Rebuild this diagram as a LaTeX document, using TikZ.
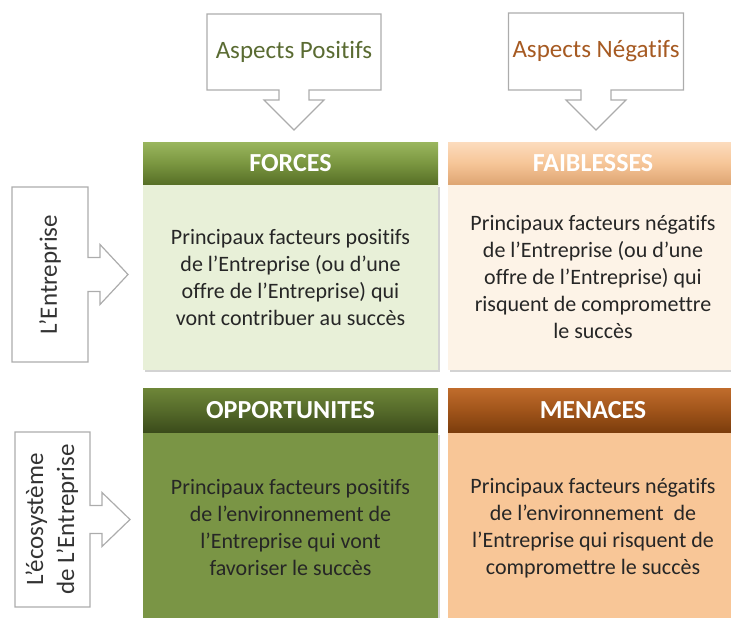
\documentclass[tikz,border=0pt]{standalone}
\usepackage{fontspec}
\setmainfont{Carlito}[Ligatures={NoCommon}]
\usetikzlibrary{positioning,shadows}

\definecolor{postext}{HTML}{5A6B32}
\definecolor{negtext}{HTML}{A65A22}
\definecolor{forcetop}{HTML}{9AB65E}
\definecolor{forcemid}{HTML}{7A9640}
\definecolor{forcebot}{HTML}{566E26}
\definecolor{forcebody}{HTML}{E8F0D8}
\definecolor{faibtop}{HTML}{FCDCBE}
\definecolor{faibmid}{HTML}{F6C597}
\definecolor{faibbot}{HTML}{DDA472}
\definecolor{faibbody}{HTML}{FDF3E7}
\definecolor{opptop}{HTML}{6E8638}
\definecolor{oppmid}{HTML}{556A2A}
\definecolor{oppbot}{HTML}{3A4A1A}
\definecolor{oppbody}{HTML}{7A9545}
\definecolor{mentop}{HTML}{C06C2C}
\definecolor{menmid}{HTML}{A0541A}
\definecolor{menbot}{HTML}{7A3C0C}
\definecolor{menbody}{HTML}{F8C697}

\tikzset{
  head/.style={minimum height=43pt, inner sep=0pt, outer sep=0pt, anchor=north west,
    font=\fontsize{26}{30}\selectfont\bfseries, text=white},
  cell/.style={minimum height=185pt, inner sep=0pt, outer sep=0pt, align=center,
    font=\fontsize{22}{27}\selectfont, text=black!85,
    drop shadow={opacity=0.35, shadow xshift=2pt, shadow yshift=-2pt}},
  tag/.style={inner sep=0pt, outer sep=0pt, font=\fontsize{25}{31}\selectfont},
  callout/.style={draw=gray!65, line width=1.2pt, line join=miter}
}

\begin{document}
\begin{tikzpicture}[x=1pt,y=-1pt]
  \useasboundingbox (0,0) rectangle (731,618);
  \clip (0,0) rectangle (731,618);

  % Grid
  \node[head, minimum width=295pt, top color=forcetop, bottom color=forcebot, middle color=forcemid] (forceshead) at (143,142) {FORCES};
  \node[cell, fill=forcebody, minimum width=295pt, below=0pt of forceshead.south west, anchor=north west] (forces)
    {Principaux facteurs positifs\\de l’Entreprise (ou d’une\\offre de l’Entreprise) qui\\vont contribuer au succès};

  \node[head, minimum width=290pt, top color=faibtop, bottom color=faibbot, middle color=faibmid] (faibhead) at (448,142) {FAIBLESSES};
  \node[cell, fill=faibbody, minimum width=290pt, below=0pt of faibhead.south west, anchor=north west] (faiblesses)
    {Principaux facteurs négatifs\\de l’Entreprise (ou d’une\\offre de l’Entreprise) qui\\risquent de compromettre\\le succès};

  \node[head, minimum width=295pt, minimum height=45pt, top color=opptop, bottom color=oppbot, middle color=oppmid] (opphead) at (143,388) {OPPORTUNITES};
  \node[cell, fill=oppbody, minimum width=295pt, minimum height=190pt, below=0pt of opphead.south west, anchor=north west] (opportunites)
    {Principaux facteurs positifs\\de l’environnement de\\l’Entreprise qui vont\\favoriser le succès};

  \node[head, minimum width=290pt, minimum height=45pt, top color=mentop, bottom color=menbot, middle color=menmid] (menhead) at (448,388) {MENACES};
  \node[cell, fill=menbody, minimum width=290pt, minimum height=190pt, below=0pt of menhead.south west, anchor=north west] (menaces)
    {Principaux facteurs négatifs\\de l’environnement \ de\\l’Entreprise qui risquent de\\compromettre le succès};

  % Callouts
  \node[tag, text=postext, minimum width=174pt, minimum height=76pt] (positifs) at (294,52) {Aspects Positifs};
  \draw[callout] (positifs.north west) -- (positifs.north east) -- (positifs.south east)
    -- ([xshift=15pt]positifs.south) -- ++(0,10) -- ++(15,0) -- ++(-30,30) -- ++(-30,-30)
    -- ++(15,0) -- ++(0,-10) -- (positifs.south west) -- cycle;

  \node[tag, text=negtext, minimum width=175pt, minimum height=77pt] (negatifs) at (596,51.5) {Aspects Négatifs};
  \draw[callout] (negatifs.north west) -- (negatifs.north east) -- (negatifs.south east)
    -- ([xshift=15pt]negatifs.south) -- ++(0,10) -- ++(15,0) -- ++(-30,30) -- ++(-30,-30)
    -- ++(15,0) -- ++(0,-10) -- (negatifs.south west) -- cycle;

  \node[tag, text=black!80, minimum width=76pt, minimum height=175pt] (entreprise) at (50,274.5)
    {\rotatebox{90}{L’Entreprise}};
  \draw[callout] (entreprise.north west) -- (entreprise.north east) -- ([yshift=17pt]entreprise.east)
    -- ++(12,0) -- ++(0,-13) -- ++(28,30) -- ++(-28,30) -- ++(0,-13) -- ++(-12,0)
    -- (entreprise.south east) -- (entreprise.south west) -- cycle;

  \node[tag, text=black!80, minimum width=75pt, minimum height=175pt] (ecosysteme) at (52.5,519.5)
    {\rotatebox{90}{\begin{tabular}{@{}c@{}}L’écosystème\\de L’Entreprise\end{tabular}}};
  \draw[callout] (ecosysteme.north west) -- (ecosysteme.north east) -- ([yshift=14pt]ecosysteme.east)
    -- ++(12,0) -- ++(0,-13) -- ++(28,27) -- ++(-28,27) -- ++(0,-13) -- ++(-12,0)
    -- (ecosysteme.south east) -- (ecosysteme.south west) -- cycle;
\end{tikzpicture}
\end{document}
